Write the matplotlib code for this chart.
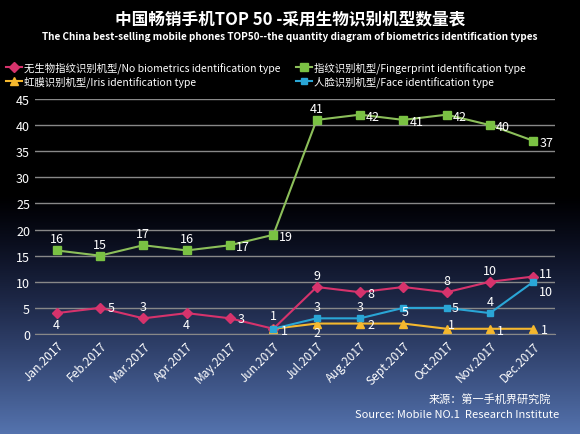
import matplotlib
matplotlib.use("Agg")
import matplotlib.pyplot as plt
import numpy as np

plt.rcParams['font.family'] = ['Noto Sans CJK SC', 'DejaVu Sans']

months = ["Jan.2017","Feb.2017","Mar.2017","Apr.2017","May.2017","Jun.2017",
          "Jul.2017","Aug.2017","Sept.2017","Oct.2017","Nov.2017","Dec.2017"]
no_bio = [4,5,3,4,3,1,9,8,9,8,10,11]
finger = [16,15,17,16,17,19,41,42,41,42,40,37]
iris = [None]*5 + [1,2,2,2,1,1,1]
face = [None]*5 + [1,3,3,5,5,4,10]

fig = plt.figure(figsize=(5.8,4.35), dpi=100)
bg = fig.add_axes([0,0,1,1]); bg.axis('off')
t = np.linspace(0,1,200)
r = np.clip((t-0.45)/0.55,0,1)
grad = np.zeros((200,1,3))
grad[:,0,0] = 0.33*r**1.3
grad[:,0,1] = 0.45*r**1.3
grad[:,0,2] = 0.68*r**1.1
bg.imshow(grad, aspect='auto', extent=[0,1,0,1], origin='upper')
bg.set_xlim(0,1); bg.set_ylim(0,1)

ax = fig.add_axes([35/580, 100/435, 520/580, 235/435])
ax.set_facecolor('none')
x = np.arange(12)
cols = {'no':'#d6336c','fp':'#7ac143','ir':'#f5b82e','fa':'#2aa6d6'}
def arr(v): return np.array([np.nan if a is None else a for a in v], float)
ax.plot(x, finger, color='#8cbf5a', marker='s', ms=6, mfc='#7ac143', mec='#7ac143', lw=1.5,
        label='指纹识别机型/Fingerprint identification type')
ax.plot(x, no_bio, color=cols['no'], marker='D', ms=5, lw=1.5,
        label='无生物指纹识别机型/No biometrics identification type')
ax.plot(x, arr(iris), color=cols['ir'], marker='^', ms=6, lw=1.5,
        label='虹膜识别机型/Iris identification type')
ax.plot(x, arr(face), color=cols['fa'], marker='s', ms=5, lw=1.5,
        label='人脸识别机型/Face identification type')

ax.set_ylim(0,45); ax.set_xlim(-0.5, 11.5)
ax.set_yticks(range(0,46,5))
ax.yaxis.grid(True, color='#888888', lw=1)
ax.set_axisbelow(True)
for s in ['top','right','left']: ax.spines[s].set_visible(False)
ax.spines['bottom'].set_color('#888888')
ax.tick_params(colors='white', length=0, labelsize=9)
ax.set_xticks(x)
ax.set_xticklabels(months, rotation=45, ha='right', rotation_mode='anchor', fontsize=8.5, color='white')

kw = dict(color='white', fontsize=9, ha='center', va='center')
for i, v in enumerate(finger):
    if i in (0,1,2,3,6): ax.text(i, v+2.2, str(v), **kw)
    else: ax.text(i+0.3, v-0.3, str(v), **kw)
nb_pos = {0:(0,-2.2),1:(0.25,0),2:(0,2.2),3:(0,-2.2),4:(0.25,0),5:(0,2.5),6:(0,2.2),7:(0.25,-0.3),9:(0,2.2),10:(0,2.2),11:(0.3,0.6)}
for i,(dx,dy) in nb_pos.items():
    ax.text(i+dx, no_bio[i]+dy, str(no_bio[i]), **kw)
ir_pos = {5:(0.25,-0.4),6:(0,-1.8),7:(0.25,-0.1),9:(0.1,0.9),10:(0.25,-0.3),11:(0.25,-0.2)}
for i,(dx,dy) in ir_pos.items():
    ax.text(i+dx, iris[i]+dy, str(iris[i]), **kw)
fa_pos = {6:(0,2.2),7:(0,2.2),8:(0.05,-0.7),9:(0.2,0),10:(0,2.2),11:(0.3,-1.8)}
for i,(dx,dy) in fa_pos.items():
    ax.text(i+dx, face[i]+dy, str(face[i]), **kw)

h, l = ax.get_legend_handles_labels()
order = [1,2,0,3]
fig.legend([h[i] for i in order], [l[i] for i in order], loc='upper left',
           bbox_to_anchor=(0.0, 0.87), ncol=2, frameon=False, fontsize=7.5,
           labelcolor='white', handlelength=1.5, handletextpad=0.2,
           columnspacing=1.5, labelspacing=0.2, borderaxespad=0.2)

fig.text(0.5, 0.955, '中国畅销手机TOP 50 -采用生物识别机型数量表', color='white',
         fontsize=12, fontweight='bold', ha='center', va='center')
fig.text(0.5, 0.915, 'The China best-selling mobile phones TOP50--the quantity diagram of biometrics identification types',
         color='white', fontsize=7.2, fontweight='bold', ha='center', va='center')
fig.text(0.845, 0.075, '来源：第一手机界研究院', color='white', fontsize=8, ha='center')
fig.text(0.965, 0.04, 'Source: Mobile NO.1  Research Institute', color='white', fontsize=8, ha='right')

fig.savefig('out.png', dpi=100)
